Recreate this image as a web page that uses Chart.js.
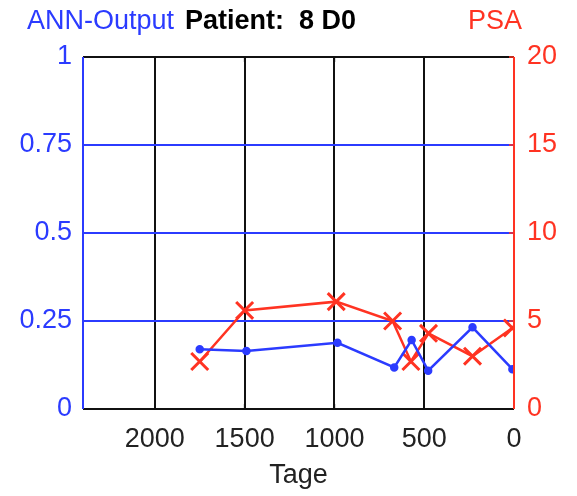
<!DOCTYPE html>
<html>
<head>
<meta charset="utf-8">
<script src="https://cdn.jsdelivr.net/npm/chart.js@4"></script>
<style>
  html, body { margin: 0; padding: 0; background: #fff; }
  #wrap { width: 577px; height: 496px; }
</style>
</head>
<body>
<div id="wrap"><canvas id="c"></canvas></div>
<script>
// ── Data ───────────────────────────────────────────────────────────────────

const annDays  = [1750, 1490, 983, 667, 570, 478, 231, 9];
const annVals  = [0.170, 0.165, 0.188, 0.118, 0.196, 0.109, 0.232, 0.113];
const psaDays  = [1750, 1500, 990, 676, 574, 476, 231, 9];
const psaVals  = [2.7, 5.6, 6.1, 5.0, 2.7, 4.3, 3.0, 4.6];
const dayTicks = [0, 500, 1000, 1500, 2000];

const BLUE  = '#2b3bff';
const RED   = '#ff3322';
const FONT  = "'Liberation Sans', Arial, sans-serif";

// ── Frame + title ──────────────────────────────────────────────────────────

const frame = {
  id: 'frame',
  afterDraw(chart) {
    const { ctx, chartArea: a, scales } = chart;
    ctx.save();
    ctx.lineWidth = 2;
    ctx.strokeStyle = '#111';
    ctx.beginPath();
    ctx.moveTo(a.left, a.top); ctx.lineTo(a.right, a.top);
    ctx.moveTo(a.left, a.bottom); ctx.lineTo(a.right, a.bottom);
    ctx.stroke();
    // small ticks on top / bottom
    ctx.lineWidth = 1.5;
    dayTicks.forEach(v => {
      const x = scales.x.getPixelForValue(v);
      ctx.beginPath();
      ctx.moveTo(x, a.top); ctx.lineTo(x, a.top + 5);
      ctx.moveTo(x, a.bottom); ctx.lineTo(x, a.bottom - 5);
      ctx.stroke();
    });
    ctx.strokeStyle = BLUE;
    ctx.beginPath();
    ctx.lineWidth = 2;
    ctx.moveTo(a.left, a.top); ctx.lineTo(a.left, a.bottom);
    ctx.stroke();
    ctx.strokeStyle = RED;
    ctx.beginPath();
    ctx.moveTo(a.right, a.top); ctx.lineTo(a.right, a.bottom);
    ctx.stroke();
    ctx.lineWidth = 1.5;
    [5, 10, 15, 20].forEach(v => {
      const y = scales.y1.getPixelForValue(v);
      ctx.beginPath();
      ctx.moveTo(a.right, y); ctx.lineTo(a.right - 5, y);
      ctx.stroke();
    });

    ctx.textBaseline = 'middle';
    ctx.font = `27px ${FONT}`;
    ctx.fillStyle = BLUE;
    ctx.textAlign = 'left';
    ctx.fillText('ANN-Output', 27, 22);
    ctx.font = `bold 27px ${FONT}`;
    ctx.fillStyle = '#000';
    ctx.fillText('Patient:  8 D0', 185, 22);
    ctx.font = `27px ${FONT}`;
    ctx.fillStyle = RED;
    ctx.fillText('PSA', 468, 22);
    ctx.restore();
  }
};

// ── Chart ──────────────────────────────────────────────────────────────────

new Chart(document.getElementById('c'), {
  type: 'scatter',
  data: {
    datasets: [
      {
        label: 'ANN-Output',
        data: annDays.map((d, i) => ({ x: d, y: annVals[i] })),
        yAxisID: 'y',
        showLine: true,
        borderColor: BLUE,
        backgroundColor: BLUE,
        borderWidth: 2.5,
        pointRadius: 3,
        pointStyle: 'circle'
      },
      {
        label: 'PSA',
        data: psaDays.map((d, i) => ({ x: d, y: psaVals[i] })),
        yAxisID: 'y1',
        showLine: true,
        borderColor: RED,
        backgroundColor: RED,
        borderWidth: 2.5,
        pointRadius: 12,
        pointBorderWidth: 3,
        pointStyle: 'crossRot'
      }
    ]
  },
  options: {
    responsive: true,
    maintainAspectRatio: false,
    animation: false,
    layout: { padding: { top: 57, left: 0, right: 0, bottom: 0 } },
    plugins: { legend: { display: false }, tooltip: { enabled: false } },
    scales: {
      x: {
        type: 'linear',
        reverse: true,
        min: 0,
        max: 2400,
        afterBuildTicks: s => { s.ticks = dayTicks.map(v => ({ value: v })); },
        afterFit: s => { s.height = 87; },
        grid: {
          drawTicks: false,
          color: c => c.tick && c.tick.value === 0 ? 'rgba(0,0,0,0)' : '#111',
          lineWidth: 2
        },
        border: { display: false },
        ticks: {
          color: '#222', padding: 14, font: { family: FONT, size: 27 },
          callback: v => String(v)
        },
        title: {
          display: true, text: 'Tage', color: '#222',
          font: { family: FONT, size: 27 }, padding: { top: 6 }
        }
      },
      y: {
        position: 'left',
        min: 0,
        max: 1,
        afterFit: s => { s.width = 83; },
        grid: {
          drawTicks: false,
          color: c => (c.tick && (c.tick.value === 0 || c.tick.value === 1)) ? 'rgba(0,0,0,0)' : BLUE,
          lineWidth: 2
        },
        border: { display: false },
        ticks: {
          stepSize: 0.25, color: BLUE, padding: 11, font: { family: FONT, size: 27 },
          callback: v => String(v)
        }
      },
      y1: {
        position: 'right',
        min: 0,
        max: 20,
        afterFit: s => { s.width = 63; },
        grid: { display: false, drawTicks: false },
        border: { display: false },
        ticks: {
          stepSize: 5, color: RED, padding: 13, font: { family: FONT, size: 27 },
          callback: v => String(v)
        }
      }
    }
  },
  plugins: [frame]
});
</script>
</body>
</html>
